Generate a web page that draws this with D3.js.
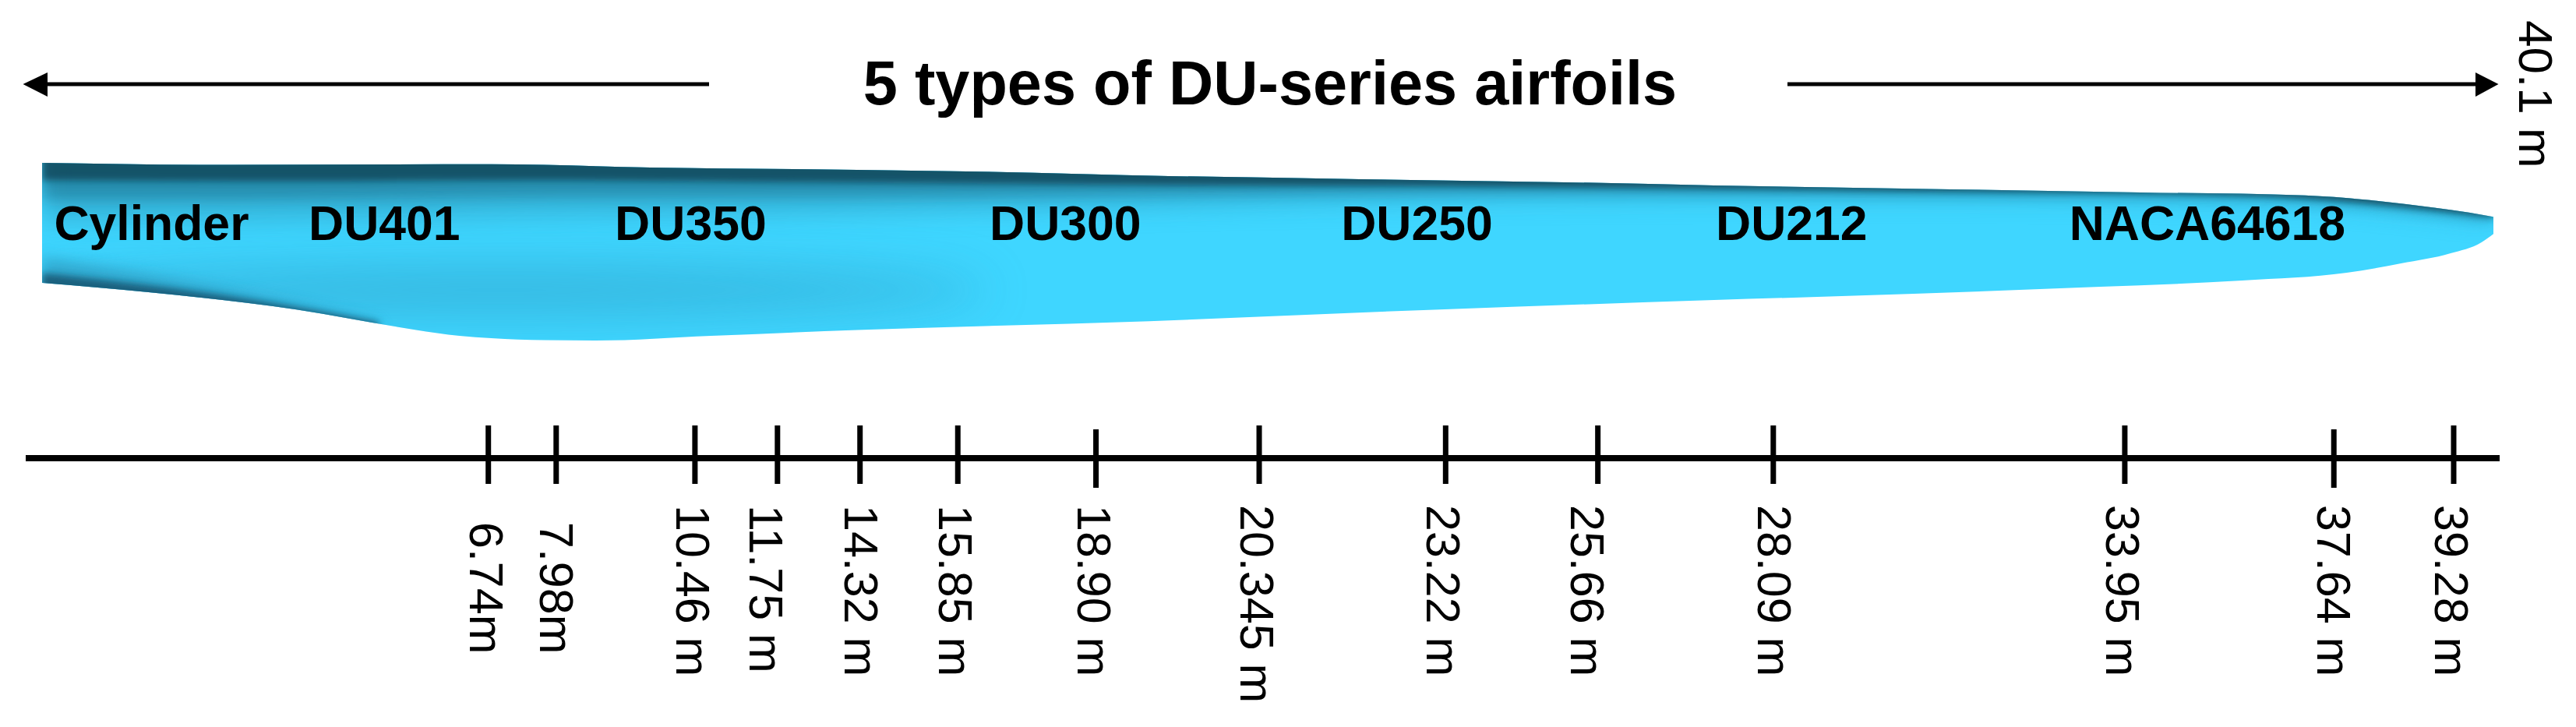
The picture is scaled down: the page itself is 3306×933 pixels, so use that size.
<!DOCTYPE html>
<html><head><meta charset="utf-8">
<script src="https://cdn.jsdelivr.net/npm/d3@7"></script>
<style>html,body{margin:0;background:#fff}svg{display:block}text{font-family:"Liberation Sans",Arial,sans-serif;fill:#000}</style>
</head><body><div id="c"></div>
<script>
// Blade length and drawn stations, in metres along the blade drawing
const bladeLength = 40.1;
const tickLabels = ["6.74m","7.98m","10.46 m","11.75 m","14.32 m","15.85 m","18.90 m","20.345 m","23.22 m","25.66 m","28.09 m","33.95 m","37.64 m","39.28 m"];
const tickStations = [7.30,8.41,10.68,12.03,13.38,14.98,17.24,19.91,22.96,25.45,28.32,34.07,37.49,39.45];
const tickDropped = ["18.90 m","37.64 m"];
const airfoilNames = ["Cylinder","DU401","DU350","DU300","DU250","DU212","NACA64618"];
const airfoilStations = [1.79,5.60,10.61,16.74,22.49,28.62,35.42];
// Blade outline: station and offset from the tip chord line (m)
const upperStations = [0,3.07,7.35,9.95,13.33,15.12,18.43,21.55,24.91,27.35,31.22,34.33,37.02,37.96,39.13,39.7,40.1];
const upperOffsets  = [1.034,1.0,1.01,0.957,0.919,0.893,0.817,0.766,0.715,0.664,0.60,0.549,0.50,0.434,0.300,0.22,0.15];
const lowerStations = [0,1.74,4.16,6.10,6.83,7.35,8.23,9.06,10.94,13.33,18.11,22.86,27.35,30.62,33.67,35.99,37.7,38.59,39.4,39.9,40.1];
const lowerOffsets  = [-0.932,-1.085,-1.366,-1.697,-1.797,-1.836,-1.868,-1.874,-1.797,-1.702,-1.557,-1.366,-1.212,-1.11,-0.995,-0.893,-0.766,-0.613,-0.447,-0.27,-0.13];
// Depth of the shaded band under the upper edge (m)
const shadeStations = [0,4,8,13,18,24,30,36,40.1];
const shadeDepths   = [0.96,0.9,0.83,0.7,0.5,0.28,0.14,0.07,0.03];
const titleText = "5 types of DU-series airfoils";
const spanText = "40.1 m";

const W=3306,H=933;
const x=d3.scaleLinear().domain([0,bladeLength]).range([54,3200]);
const pxPerM=(3200-54)/bladeLength;
const y=d3.scaleLinear().domain([0,1]).range([290,290-pxPerM]);
const svg=d3.select("#c").append("svg").attr("width",W).attr("height",H).attr("viewBox",[0,0,W,H]);
const defs=svg.append("defs");

const upper=upperStations.map((s,i)=>[s,upperOffsets[i]]);
const lower=lowerStations.map((s,i)=>[s,lowerOffsets[i]]);
const line=d3.line().x(d=>x(d[0])).y(d=>y(d[1])).curve(d3.curveMonotoneX);
const outline=line(upper)+"L"+line(lower.slice().reverse()).slice(1)+"Z";
defs.append("clipPath").attr("id","blade").append("path").attr("d",outline);
[4,9,16,30].forEach(s=>defs.append("filter").attr("id","b"+s).attr("x","-30%").attr("y","-100%").attr("width","160%").attr("height","300%")
  .append("feGaussianBlur").attr("stdDeviation",s));

svg.append("path").attr("d",outline).attr("fill","#3fd6ff");
const shade=svg.append("g").attr("clip-path","url(#blade)");
const up=d3.scaleLinear(upperStations,upperOffsets), low=d3.scaleLinear(lowerStations,lowerOffsets);
const band=(f)=>d3.area().x(d=>x(d[0])).y0(d=>y(up(d[0]))-30).y1(d=>y(up(d[0])-d[1]*f)).curve(d3.curveMonotoneX)(shadeStations.map((s,i)=>[s,shadeDepths[i]]));
[[1,"#2b93b5",.5,"b16"],[.62,"#1f6f8c",.55,"b9"],[.3,"#0f3a4c",.7,"b4"]].forEach(([f,c,o,b])=>
  shade.append("path").attr("d",band(f)).attr("fill",c).attr("opacity",o).attr("filter",`url(#${b})`));
// darker patch on the lower half, towards the root
shade.append("ellipse").attr("cx",x(7.5)).attr("cy",y(-1.05)).attr("rx",x(8)-x(0)).attr("ry",32).attr("fill","#2f9fc6").attr("opacity",.55).attr("filter","url(#b30)");
const rootEdge=d3.area().x(d=>x(d[0])).y0(d=>y(low(d[0]))+20).y1(d=>y(low(d[0])+d[1])).curve(d3.curveMonotoneX);
shade.append("path").attr("d",rootEdge([[0,.42],[1.5,.3],[3.5,.14],[5.5,.02]])).attr("fill","#2b8fb3").attr("opacity",.6).attr("filter","url(#b9)");
shade.append("path").attr("d",rootEdge([[0,.16],[1.5,.12],[3.5,.07],[5.5,.02]])).attr("fill","#14506a").attr("opacity",.8).attr("filter","url(#b4)");

// Airfoil names
svg.append("g").selectAll("text").data(airfoilNames).join("text")
  .attr("x",(d,i)=>x(airfoilStations[i])).attr("y",308).attr("text-anchor","middle")
  .attr("font-size",62.5).attr("font-weight",700).text(d=>d);

// Title and arrows
svg.append("text").attr("x",1630).attr("y",134).attr("text-anchor","middle").attr("font-size",79.3).attr("font-weight",700).text(titleText);
const arrow=(from,to,base)=>{
  svg.append("line").attr("x1",from).attr("x2",base).attr("y1",108).attr("y2",108).attr("stroke","#000").attr("stroke-width",5);
  svg.append("path").attr("d",d3.line()([[to,108],[base,93],[base,124]])+"Z").attr("fill","#000");
};
arrow(910,29.5,61);
arrow(2294,3206.5,3177);

// Span label
svg.append("text").attr("transform","translate(3233,26) rotate(90)").attr("font-size",62).text(spanText);

// Axis
svg.append("line").attr("x1",33).attr("x2",3208).attr("y1",588).attr("y2",588).attr("stroke","#000").attr("stroke-width",8);
const nudge={"11.75 m":-12,"25.66 m":-11,"14.32 m":4,"28.09 m":4,"7.98m":3,"37.64 m":3};
const t=svg.append("g").selectAll("g").data(tickLabels).join("g").attr("transform",(d,i)=>`translate(${x(tickStations[i])},0)`);
t.append("line").attr("stroke","#000").attr("stroke-width",7)
  .attr("y1",d=>tickDropped.includes(d)?551:546).attr("y2",d=>tickDropped.includes(d)?626:621);
t.append("text").attr("font-size",61)
  .attr("transform",d=>`translate(${-24+(nudge[d]||0)},${d.endsWith(" m")?648:670}) rotate(90)`).text(d=>d);
</script></body></html>
